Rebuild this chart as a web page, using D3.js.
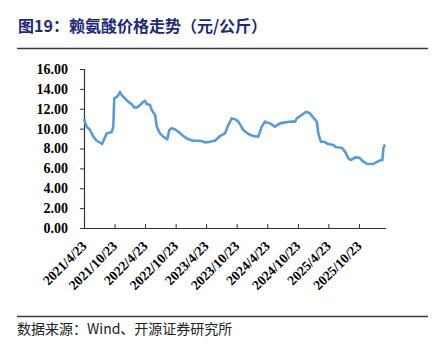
<!DOCTYPE html>
<html>
<head>
<meta charset="utf-8">
<script src="https://cdn.jsdelivr.net/npm/d3@7"></script>
<style>
  html, body { margin: 0; padding: 0; background: #fff; }
  svg { display: block; }
</style>
</head>
<body>
<svg id="chart" width="433" height="350"></svg>
<script>
// Lysine price (CNY/kg), sampled along the series
const dates = [
  "2021-04-23","2021-05-09","2021-05-29","2021-06-18","2021-07-08","2021-07-28","2021-08-09","2021-08-21",
  "2021-09-06","2021-09-21","2021-10-07","2021-10-15","2021-10-21","2021-11-05","2021-11-14","2021-11-24",
  "2021-12-04","2021-12-24","2022-01-13","2022-02-02","2022-02-16","2022-03-08","2022-03-24","2022-04-13",
  "2022-04-23","2022-05-03","2022-05-23","2022-06-02","2022-06-22","2022-07-02","2022-07-21","2022-08-10",
  "2022-09-03","2022-09-15","2022-09-29","2022-10-19","2022-11-08","2022-12-08","2023-01-07","2023-02-06",
  "2023-03-18","2023-04-17","2023-05-16","2023-06-15","2023-07-15","2023-08-14","2023-09-03","2023-09-23",
  "2023-10-13","2023-11-02","2023-12-02","2024-01-01","2024-01-30","2024-02-29","2024-03-21","2024-04-09",
  "2024-05-09","2024-06-08","2024-07-08","2024-08-07","2024-09-06","2024-10-06","2024-10-16","2024-11-15",
  "2024-12-11","2025-01-03","2025-01-27","2025-02-13","2025-02-22","2025-03-09","2025-03-28","2025-04-23",
  "2025-05-23","2025-06-08","2025-07-12","2025-08-01","2025-08-21","2025-09-06","2025-09-30","2025-10-26",
  "2025-11-19","2025-12-12","2026-01-17","2026-02-16","2026-03-12","2026-03-18","2026-03-28"
];
const prices = [
  10.94,10.20,9.86,9.19,8.78,8.58,8.45,8.92,
  9.52,9.59,9.69,10.20,13.05,13.20,13.38,13.70,
  13.38,13.05,12.70,12.47,12.14,12.14,12.37,12.70,
  12.80,12.47,12.37,11.87,11.37,10.20,9.52,9.19,
  8.92,9.86,10.03,9.93,9.69,9.26,8.92,8.78,
  8.78,8.62,8.68,8.78,9.26,9.52,10.36,11.03,
  10.94,10.70,9.86,9.46,9.26,9.19,10.20,10.70,
  10.53,10.20,10.53,10.63,10.70,10.70,11.03,11.37,
  11.70,11.54,11.03,10.70,9.52,8.68,8.68,8.45,
  8.35,8.12,8.08,7.68,7.01,6.84,7.11,7.07,
  6.67,6.44,6.44,6.74,6.84,8.02,8.40
];
const xTickLabels = ["2021/4/23","2021/10/23","2022/4/23","2022/10/23","2023/4/23",
                     "2023/10/23","2024/4/23","2024/10/23","2025/4/23","2025/10/23"];
const yTicks = [0, 2, 4, 6, 8, 10, 12, 14, 16];

const titleText = "图19：赖氨酸价格走势（元/公斤）";
const sourceText = "数据来源：Wind、开源证券研究所";

const parse = d3.timeParse("%Y-%m-%d");
const parseTick = d3.timeParse("%Y/%m/%d");
const series = dates.map((d, i) => ({ date: parse(d), value: prices[i] }));
const tickDates = xTickLabels.map(parseTick);

const svg = d3.select("#chart");
const plot = { left: 84, right: 385.7, top: 69, bottom: 228 };

const x = d3.scaleTime()
  .domain([tickDates[0], parse("2026-04-01")])
  .range([plot.left, plot.right]);
const y = d3.scaleLinear().domain([0, 16]).range([plot.bottom, plot.top]);

// Title and rules
svg.append("text")
  .attr("x", 18).attr("y", 32)
  .attr("font-family", "'Noto Sans CJK SC', sans-serif")
  .attr("font-weight", "bold")
  .attr("font-size", 16)
  .attr("fill", "#1d2a79")
  .text(titleText);
svg.append("line")
  .attr("x1", 17).attr("x2", 428).attr("y1", 48.5).attr("y2", 48.5)
  .attr("stroke", "#3a3a3a").attr("stroke-width", 1.3);
svg.append("line")
  .attr("x1", 17).attr("x2", 428).attr("y1", 316.5).attr("y2", 316.5)
  .attr("stroke", "#3a3a3a").attr("stroke-width", 1.3);
svg.append("text")
  .attr("x", 17).attr("y", 334)
  .attr("font-family", "'Noto Sans CJK SC', 'Liberation Serif', serif")
  .attr("font-size", 14)
  .attr("fill", "#222")
  .text(sourceText);

// Y axis
const yAxis = svg.append("g")
  .attr("transform", `translate(${plot.left},0)`)
  .call(d3.axisLeft(y).tickValues(yTicks).tickFormat(d3.format(".2f")).tickSize(4).tickPadding(12));
yAxis.select(".domain").attr("stroke", "#333").attr("stroke-width", 1.2);
yAxis.selectAll(".tick line").attr("stroke", "#333");
yAxis.selectAll("text")
  .attr("font-family", "'Liberation Serif', 'Times New Roman', serif")
  .attr("font-weight", "bold")
  .attr("font-size", 14)
  .attr("fill", "#000");

// X axis, ticks pointing into the plot
const xAxis = svg.append("g")
  .attr("transform", `translate(0,${plot.bottom})`)
  .call(d3.axisBottom(x).tickValues(tickDates).tickSize(-4).tickSizeOuter(0)
        .tickFormat((d, i) => xTickLabels[i]));
xAxis.select(".domain").attr("stroke", "#333").attr("stroke-width", 1.2);
xAxis.selectAll(".tick line").attr("stroke", "#333");
xAxis.selectAll(".tick").filter((d, i) => i === 0).select("line").remove();
xAxis.selectAll("text")
  .attr("font-family", "'Liberation Serif', 'Times New Roman', serif")
  .attr("font-weight", "bold")
  .attr("font-size", 13.6)
  .attr("fill", "#000")
  .attr("text-anchor", "end")
  .attr("dy", null)
  .attr("y", 0)
  .attr("transform", "translate(3,19) rotate(-45)");

// Price line
svg.append("path")
  .datum(series)
  .attr("fill", "none")
  .attr("stroke", "#5b9bd5")
  .attr("stroke-width", 2.6)
  .attr("stroke-linejoin", "round")
  .attr("d", d3.line().x(d => x(d.date)).y(d => y(d.value)));
</script>
</body>
</html>
